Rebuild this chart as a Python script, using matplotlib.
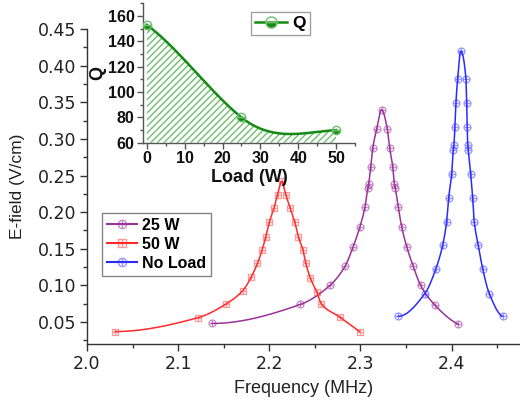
import numpy as np
import matplotlib
matplotlib.use("Agg")
import matplotlib.pyplot as plt
from matplotlib.path import Path
from matplotlib.lines import Line2D
from matplotlib.ticker import MultipleLocator

# ---------------- data ----------------
f_50w = [2.031, 2.122, 2.153, 2.171, 2.180, 2.187, 2.192, 2.196, 2.200, 2.205, 2.209,
         2.2136,
         2.218, 2.223, 2.228, 2.232, 2.237, 2.240, 2.245, 2.252, 2.257, 2.277, 2.299]
e_50w = [0.037, 0.056, 0.075, 0.093, 0.111, 0.130, 0.148, 0.166, 0.186, 0.205, 0.224,
         0.242,
         0.224, 0.205, 0.186, 0.166, 0.148, 0.130, 0.110, 0.091, 0.075, 0.057, 0.037]

f_25w = [2.137, 2.234, 2.2665, 2.283, 2.292, 2.2994, 2.305, 2.3080, 2.3090, 2.3112, 2.3135, 2.3178,
         2.3232,
         2.3294, 2.3320, 2.3355, 2.3372, 2.3382, 2.3414, 2.3452, 2.3507, 2.3579, 2.366, 2.3817, 2.4073]
e_25w = [0.048, 0.074, 0.100, 0.126, 0.153, 0.180, 0.2075, 0.2327, 0.2386, 0.261, 0.2875, 0.3136,
         0.340,
         0.3136, 0.2875, 0.261, 0.2386, 0.2327, 0.2075, 0.180, 0.153, 0.126, 0.100, 0.073, 0.047]

f_noload = [2.3415, 2.3707, 2.3828, 2.3902, 2.3945, 2.3967, 2.4000, 2.4018, 2.4025, 2.4036, 2.4047,
            2.4066, 2.4100,
            2.4157, 2.4165, 2.4171, 2.4176, 2.4182, 2.4209, 2.4231, 2.4248, 2.4292, 2.434, 2.4413, 2.456]
e_noload = [0.0578, 0.0889, 0.123, 0.155, 0.187, 0.219, 0.252, 0.285, 0.292, 0.316, 0.349,
            0.382, 0.420,
            0.382, 0.349, 0.316, 0.292, 0.285, 0.252, 0.219, 0.187, 0.155, 0.123, 0.0889, 0.0578]

load_w = [0, 25, 50]
q_vals = [153, 80, 70]
q_curve_slopes = [-2.2, -2.4, 0.2]   # tangents used for the smooth inset curve

series_labels = ["25 W", "50 W", "No Load"]


# ---------------- helpers ----------------
def pchip(x, y, n=400):
    x = np.asarray(x, float)
    y = np.asarray(y, float)
    h = np.diff(x)
    dl = np.diff(y) / h
    d = np.zeros_like(y)
    for k in range(1, len(x) - 1):
        if dl[k - 1] * dl[k] <= 0:
            d[k] = 0.0
        else:
            w1 = 2 * h[k] + h[k - 1]
            w2 = h[k] + 2 * h[k - 1]
            d[k] = (w1 + w2) / (w1 / dl[k - 1] + w2 / dl[k])

    def end(h0, h1, d0, d1):
        v = ((2 * h0 + h1) * d0 - h0 * d1) / (h0 + h1)
        if np.sign(v) != np.sign(d0):
            v = 0.0
        elif np.sign(d0) != np.sign(d1) and abs(v) > abs(3 * d0):
            v = 3 * d0
        return v

    d[0] = end(h[0], h[1], dl[0], dl[1])
    d[-1] = end(h[-1], h[-2], dl[-1], dl[-2])
    return hermite(x, y, d, n)


def hermite(x, y, d, n=400):
    x = np.asarray(x, float)
    y = np.asarray(y, float)
    d = np.asarray(d, float)
    xs = np.linspace(x[0], x[-1], n)
    idx = np.clip(np.searchsorted(x, xs) - 1, 0, len(x) - 2)
    hh = x[idx + 1] - x[idx]
    t = (xs - x[idx]) / hh
    h00 = 2 * t**3 - 3 * t**2 + 1
    h10 = t**3 - 2 * t**2 + t
    h01 = -2 * t**3 + 3 * t**2
    h11 = t**3 - t**2
    ys = h00 * y[idx] + h10 * hh * d[idx] + h01 * y[idx + 1] + h11 * hh * d[idx + 1]
    return xs, ys


cross = Path([(-1, 0), (1, 0), (0, -1), (0, 1)],
             [Path.MOVETO, Path.LINETO, Path.MOVETO, Path.LINETO])
circ_plus = Path.make_compound_path(Path.unit_circle(), cross)
square = Path([(-1, -1), (1, -1), (1, 1), (-1, 1), (-1, -1)],
              [Path.MOVETO, Path.LINETO, Path.LINETO, Path.LINETO, Path.CLOSEPOLY])
sq_plus = Path.make_compound_path(square, cross)

# ---------------- figure ----------------
plt.rcParams['font.family'] = ['Liberation Sans', 'DejaVu Sans']
plt.rcParams['hatch.linewidth'] = 1.0

fig = plt.figure(figsize=(5.2, 4.05), dpi=100)
ax = fig.add_axes([87 / 520, 61 / 405, 433 / 520, 315 / 405])

styles = [
    (f_25w, e_25w, '#993399', (0.6, 0.2, 0.6, 0.55), circ_plus),
    (f_50w, e_50w, '#ff2a2a', (1.0, 0.2, 0.2, 0.5), sq_plus),
    (f_noload, e_noload, '#2a2aff', (0.2, 0.2, 1.0, 0.5), circ_plus),
]
handles = []
for (fx, ey, lc, mc, mk), lab in zip(styles, series_labels):
    xs, ys = pchip(fx, ey)
    ax.plot(xs, ys, color=lc, lw=1.1, zorder=3)
    ax.plot(fx, ey, ls='none', marker=mk, ms=5, mfc='none', mec=mc, mew=0.9, zorder=4)
    handles.append(Line2D([], [], color=lc, lw=1.5, marker=mk, ms=6, mfc='none',
                          mec=mc, mew=1.0))

ax.set_xlim(2.0, 2.475)
ax.set_ylim(0.02, 0.45)
ax.xaxis.set_major_locator(MultipleLocator(0.1))
ax.xaxis.set_minor_locator(MultipleLocator(0.05))
ax.yaxis.set_major_locator(MultipleLocator(0.05))
ax.yaxis.set_minor_locator(MultipleLocator(0.025))
ax.xaxis.set_major_formatter(matplotlib.ticker.FormatStrFormatter('%.1f'))
ax.yaxis.set_major_formatter(matplotlib.ticker.FormatStrFormatter('%.2f'))
for s in ['top', 'right']:
    ax.spines[s].set_visible(False)
for s in ['left', 'bottom']:
    ax.spines[s].set_color('#333333')
    ax.spines[s].set_linewidth(1.0)
ax.tick_params(which='major', direction='out', length=5, width=1.0, color='#333333',
               labelsize=12.5, pad=3)
ax.tick_params(which='minor', direction='out', length=3, width=1.0, color='#333333')
for lbl in ax.get_xticklabels() + ax.get_yticklabels():
    lbl.set_fontfamily('DejaVu Sans')
    lbl.set_color('#222222')
ax.set_xlabel('Frequency (MHz)', fontsize=13, color='#222222', labelpad=5)
ax.set_ylabel('E-field (V/cm)', fontsize=12.5, color='#222222', labelpad=9)

leg = fig.legend(handles, series_labels, loc='upper left',
                 bbox_to_anchor=(102 / 520, 1 - 213 / 405),
                 prop={'weight': 'bold', 'size': 11.5}, frameon=True, fancybox=False,
                 edgecolor='#666666', handlelength=1.9, handletextpad=0.3,
                 borderpad=0.3, labelspacing=0.25, borderaxespad=0)
leg.get_frame().set_linewidth(1.0)

# ---------------- inset ----------------
ins = fig.add_axes([143 / 520, 1 - 142.7 / 405, 212 / 520, 139.4 / 405])
ins.patch.set_alpha(0)
green = '#138a13'
qx, qy = hermite(load_w, q_vals, q_curve_slopes)
ins.fill_between(qx, qy, 60, facecolor='none', edgecolor='#6fbf6f', hatch='/////',
                 linewidth=0, zorder=1)
ins.plot(qx, qy, color=green, lw=1.8, zorder=3)
ins.plot(load_w, q_vals, ls='none', marker='o', ms=6, fillstyle='bottom', mfc=green,
         mec='#6fbf6f', mew=1.0, zorder=4)
ins.set_xlim(-1, 55)
ins.set_ylim(60, 170)
ins.xaxis.set_major_locator(MultipleLocator(10))
ins.xaxis.set_minor_locator(MultipleLocator(5))
ins.yaxis.set_major_locator(MultipleLocator(20))
ins.yaxis.set_minor_locator(MultipleLocator(10))
for s in ['top', 'right']:
    ins.spines[s].set_visible(False)
for s in ['left', 'bottom']:
    ins.spines[s].set_color('#555555')
    ins.spines[s].set_linewidth(1.0)
ins.tick_params(which='major', direction='out', length=4, width=1.0, color='#555555',
                labelsize=11.5, pad=2)
ins.tick_params(which='minor', direction='out', length=2.5, width=1.0, color='#555555')
for lbl in ins.get_xticklabels() + ins.get_yticklabels():
    lbl.set_fontweight('bold')
    lbl.set_color('#111111')
ins.set_xlabel('Load (W)', fontsize=13, fontweight='bold', labelpad=2, color='#111111')
ins.set_ylabel('Q', fontsize=13, fontweight='bold', labelpad=1, color='#111111')

qh = Line2D([], [], color=green, lw=1.8, marker='o', ms=8, fillstyle='bottom',
            mfc=green, mec='#6fbf6f', mew=1.0)
ileg = fig.legend([qh], ['Q'], loc='upper left', bbox_to_anchor=(251 / 520, 1 - 11.5 / 405),
                  prop={'weight': 'bold', 'size': 12.5}, frameon=True, fancybox=False,
                  edgecolor='#888888', handlelength=1.8, handletextpad=0.3,
                  borderpad=0.25, borderaxespad=0)
ileg.get_frame().set_linewidth(1.0)

fig.savefig('out.png', dpi=100)
